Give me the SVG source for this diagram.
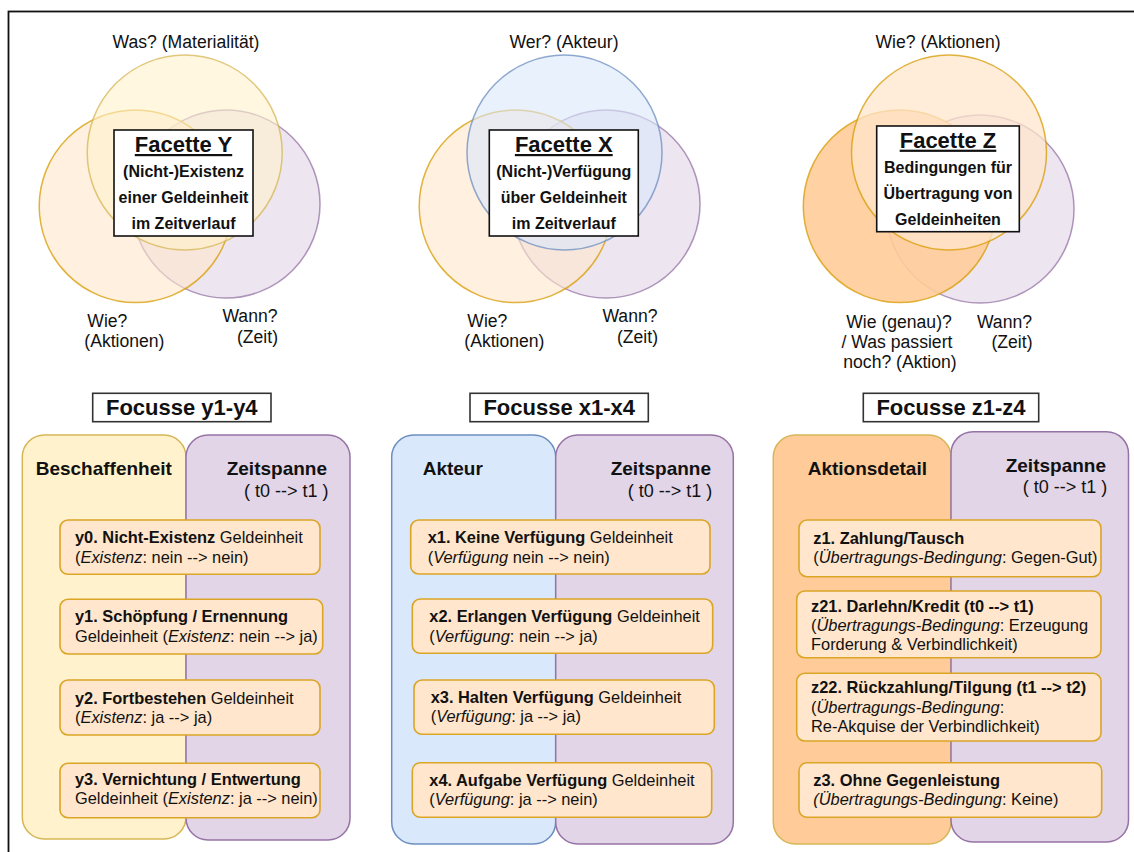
<svg xmlns="http://www.w3.org/2000/svg" width="1134" height="852" viewBox="0 0 1134 852">
<style>
text{font-family:"Liberation Sans",Arial,sans-serif;fill:#111}
.lbl{font-size:17.6px}
.ft{font-size:22px;font-weight:bold;text-decoration:underline}
.fl{font-size:16px;font-weight:bold}
.fh{font-size:22px;font-weight:bold}
.ph{font-size:19px;font-weight:bold}
.pt{font-size:18px}
.it{font-size:16.4px}
.b{font-weight:bold}
.i{font-style:italic}
.fbox{fill:#fff;stroke:#111;stroke-width:1.6}
.hbox{fill:#fff;stroke:#333;stroke-width:1.6}
.cy{fill:#fff2cc;stroke:#d6b656}
.co{fill:#ffe6cc;stroke:#d79b00}
.co2{fill:#ffcc99;stroke:#d79b00}
.cp{fill:#e1d5e7;stroke:#9673a6}
.cb{fill:#dae8fc;stroke:#6c8ebf}
.venn circle{fill-opacity:.6;stroke-opacity:.75;stroke-width:1.5}
.venn circle.strong{fill-opacity:.9}
.venn circle.top{fill-opacity:.75}
.py{fill:#fff2cc;stroke:#d6b656;stroke-width:1.5}
.pp{fill:#e1d5e7;stroke:#9673a6;stroke-width:1.5}
.pb{fill:#dae8fc;stroke:#6c8ebf;stroke-width:1.5}
.po{fill:#ffcc99;stroke:#d6b656;stroke-width:1.5}
.item{fill:#ffe6cc;stroke:#dba526;stroke-width:1.6}
</style>
<rect x="8.5" y="11.5" width="1140" height="860" fill="none" stroke="#111" stroke-width="1.8"/>

<g id="venn-y" class="venn">
<circle cx="226" cy="204" r="94" class="cp"/>
<circle cx="135.5" cy="206.3" r="96.3" class="co"/>
<circle cx="184.7" cy="152.5" r="97.5" class="cy"/>
<text class="lbl" x="186" y="48" text-anchor="middle">Was? (Materialität)</text>
<text class="lbl" x="87.3" y="326.7">Wie?</text>
<text class="lbl" x="84.3" y="347.3">(Aktionen)</text>
<text class="lbl" x="277.5" y="321.7" text-anchor="end">Wann?</text>
<text class="lbl" x="278" y="342.7" text-anchor="end">(Zeit)</text>
</g>
<g id="facette-y">
<rect x="114" y="130" width="139" height="106" class="fbox"/>
<text class="ft" x="183.5" y="152" text-anchor="middle">Facette Y</text>
<text class="fl" x="183.5" y="177" text-anchor="middle">(Nicht-)Existenz</text>
<text class="fl" x="183.5" y="203" text-anchor="middle">einer Geldeinheit</text>
<text class="fl" x="183.5" y="229" text-anchor="middle">im Zeitverlauf</text>
</g>

<g id="venn-x" class="venn">
<circle cx="606" cy="204" r="94" class="cp"/>
<circle cx="515.5" cy="206.3" r="96.3" class="co"/>
<circle cx="564.5" cy="152.5" r="97.5" class="cb"/>
<text class="lbl" x="564" y="48" text-anchor="middle">Wer? (Akteur)</text>
<text class="lbl" x="467.3" y="326.7">Wie?</text>
<text class="lbl" x="464.3" y="347.3">(Aktionen)</text>
<text class="lbl" x="657.5" y="321.7" text-anchor="end">Wann?</text>
<text class="lbl" x="658" y="342.7" text-anchor="end">(Zeit)</text>
</g>
<g id="facette-x">
<rect x="489.3" y="130" width="149" height="106" class="fbox"/>
<text class="ft" x="563.8" y="152" text-anchor="middle">Facette X</text>
<text class="fl" x="563.8" y="177.3" text-anchor="middle">(Nicht-)Verfügung</text>
<text class="fl" x="563.8" y="203.3" text-anchor="middle">über Geldeinheit</text>
<text class="fl" x="563.8" y="229.3" text-anchor="middle">im Zeitverlauf</text>
</g>

<g id="venn-z" class="venn">
<circle cx="980" cy="209" r="94" class="cp"/>
<circle cx="899.6" cy="206.3" r="96.3" class="co2 strong"/>
<circle cx="949" cy="152.5" r="97.5" class="co top"/>
<text class="lbl" x="938" y="48" text-anchor="middle">Wie? (Aktionen)</text>
<text class="lbl" x="899" y="328" text-anchor="middle">Wie (genau)?</text>
<text class="lbl" x="897" y="348" text-anchor="middle">/ Was passiert</text>
<text class="lbl" x="900" y="368" text-anchor="middle">noch? (Aktion)</text>
<text class="lbl" x="1032" y="328" text-anchor="end">Wann?</text>
<text class="lbl" x="1032.5" y="348" text-anchor="end">(Zeit)</text>
</g>
<g id="facette-z">
<rect x="876.7" y="126" width="142.6" height="105.7" class="fbox"/>
<text class="ft" x="948" y="147.7" text-anchor="middle">Facette Z</text>
<text class="fl" x="948" y="173" text-anchor="middle">Bedingungen für</text>
<text class="fl" x="948" y="199" text-anchor="middle">Übertragung von</text>
<text class="fl" x="948" y="225" text-anchor="middle">Geldeinheiten</text>
</g>

<!-- Focus Y -->
<g id="focus-y-title">
<rect x="92.7" y="393.3" width="178.3" height="28.4" class="hbox"/>
<text class="fh" x="181.8" y="414.5" text-anchor="middle">Focusse y1-y4</text>
</g>
<g id="panel-beschaffenheit">
<rect x="22.3" y="435" width="163.7" height="404" rx="22" class="py"/>
<text class="ph" x="35.7" y="475">Beschaffenheit</text>
</g>
<g id="panel-zeitspanne-y">
<rect x="186" y="435" width="164" height="405" rx="22" class="pp"/>
<text class="ph" x="226.7" y="475">Zeitspanne</text>
<text class="pt" x="244" y="497">( t0 --&gt; t1 )</text>
</g>
<g id="y0">
<rect x="60" y="520" width="260" height="54.3" rx="8" class="item"/>
<text class="it" x="75" y="543.3"><tspan class="b">y0. Nicht-Existenz</tspan> Geldeinheit</text>
<text class="it" x="75" y="562.7">(<tspan class="i">Existenz</tspan>: nein --&gt; nein)</text>
</g>
<g id="y1">
<rect x="60" y="599.3" width="262.7" height="54.7" rx="8" class="item"/>
<text class="it" x="75" y="622.3"><tspan class="b">y1. Schöpfung / Ernennung</tspan></text>
<text class="it" x="75" y="641.7">Geldeinheit (<tspan class="i">Existenz</tspan>: nein --&gt; ja)</text>
</g>
<g id="y2">
<rect x="60" y="680" width="260" height="55" rx="8" class="item"/>
<text class="it" x="75" y="704"><tspan class="b">y2. Fortbestehen</tspan> Geldeinheit</text>
<text class="it" x="75" y="723.3">(<tspan class="i">Existenz</tspan>: ja --&gt; ja)</text>
</g>
<g id="y3">
<rect x="60" y="763.3" width="260" height="54.4" rx="8" class="item"/>
<text class="it" x="75" y="785"><tspan class="b">y3. Vernichtung / Entwertung</tspan></text>
<text class="it" x="75" y="804.3">Geldeinheit (<tspan class="i">Existenz</tspan>: ja --&gt; nein)</text>
</g>

<!-- Focus X -->
<g id="focus-x-title">
<rect x="470" y="393.3" width="178.3" height="28.4" class="hbox"/>
<text class="fh" x="559.2" y="414.5" text-anchor="middle">Focusse x1-x4</text>
</g>
<g id="panel-akteur">
<rect x="391.7" y="435" width="164" height="409" rx="22" class="pb"/>
<text class="ph" x="422.7" y="475">Akteur</text>
</g>
<g id="panel-zeitspanne-x">
<rect x="555.7" y="435" width="177.6" height="409" rx="22" class="pp"/>
<text class="ph" x="610.7" y="475">Zeitspanne</text>
<text class="pt" x="627.7" y="497">( t0 --&gt; t1 )</text>
</g>
<g id="x1">
<rect x="410.7" y="520" width="299.3" height="54" rx="8" class="item"/>
<text class="it" x="427.7" y="543"><tspan class="b">x1. Keine Verfügung</tspan> Geldeinheit</text>
<text class="it" x="427.7" y="562.7">(<tspan class="i">Verfügung</tspan> nein --&gt; nein)</text>
</g>
<g id="x2">
<rect x="412.3" y="599" width="300.4" height="54.3" rx="8" class="item"/>
<text class="it" x="429.3" y="622.3"><tspan class="b">x2. Erlangen Verfügung</tspan> Geldeinheit</text>
<text class="it" x="429.3" y="641.7">(<tspan class="i">Verfügung</tspan>: nein --&gt; ja)</text>
</g>
<g id="x3">
<rect x="414" y="680" width="300.3" height="54.3" rx="8" class="item"/>
<text class="it" x="430.7" y="702.7"><tspan class="b">x3. Halten Verfügung</tspan> Geldeinheit</text>
<text class="it" x="430.7" y="722.3">(<tspan class="i">Verfügung</tspan>: ja --&gt; ja)</text>
</g>
<g id="x4">
<rect x="412.3" y="762.7" width="299.4" height="54.6" rx="8" class="item"/>
<text class="it" x="429.3" y="785.7"><tspan class="b">x4. Aufgabe Verfügung</tspan> Geldeinheit</text>
<text class="it" x="429.3" y="805">(<tspan class="i">Verfügung</tspan>: ja --&gt; nein)</text>
</g>

<!-- Focus Z -->
<g id="focus-z-title">
<rect x="863.3" y="393.3" width="175.4" height="28.4" class="hbox"/>
<text class="fh" x="951" y="414.5" text-anchor="middle">Focusse z1-z4</text>
</g>
<g id="panel-aktionsdetail">
<rect x="773.3" y="435" width="177.7" height="409" rx="22" class="po"/>
<text class="ph" x="807.7" y="475">Aktionsdetail</text>
</g>
<g id="panel-zeitspanne-z">
<rect x="951" y="431.7" width="177.5" height="410.3" rx="22" class="pp"/>
<text class="ph" x="1005.7" y="471.7">Zeitspanne</text>
<text class="pt" x="1022.7" y="493.3">( t0 --&gt; t1 )</text>
</g>
<g id="z1">
<rect x="799" y="520" width="302" height="56.7" rx="8" class="item"/>
<text class="it" x="813.3" y="544.3"><tspan class="b">z1. Zahlung/Tausch</tspan></text>
<text class="it" x="813.3" y="563.3">(<tspan class="i">Übertragungs-Bedingung</tspan>: Gegen-Gut)</text>
</g>
<g id="z21">
<rect x="796.7" y="591" width="304.3" height="66.7" rx="8" class="item"/>
<text class="it" x="811" y="611.7"><tspan class="b">z21. Darlehn/Kredit (t0 --&gt; t1)</tspan></text>
<text class="it" x="811" y="630.5">(<tspan class="i">Übertragungs-Bedingung</tspan>: Erzeugung</text>
<text class="it" x="811" y="649.5">Forderung &amp; Verbindlichkeit)</text>
</g>
<g id="z22">
<rect x="796.7" y="673.3" width="304.3" height="67.7" rx="8" class="item"/>
<text class="it" x="811" y="693.3"><tspan class="b">z22. Rückzahlung/Tilgung (t1 --&gt; t2)</tspan></text>
<text class="it" x="811" y="712.7">(<tspan class="i">Übertragungs-Bedingung</tspan>:</text>
<text class="it" x="811" y="731.7">Re-Akquise der Verbindlichkeit)</text>
</g>
<g id="z3">
<rect x="799" y="762.7" width="302.7" height="54.6" rx="8" class="item"/>
<text class="it" x="813.3" y="786"><tspan class="b">z3. Ohne Gegenleistung</tspan></text>
<text class="it" x="813.3" y="805"><tspan class="i">(Übertragungs-Bedingung</tspan>: Keine)</text>
</g>
<g id="connectors"/>
</svg>
